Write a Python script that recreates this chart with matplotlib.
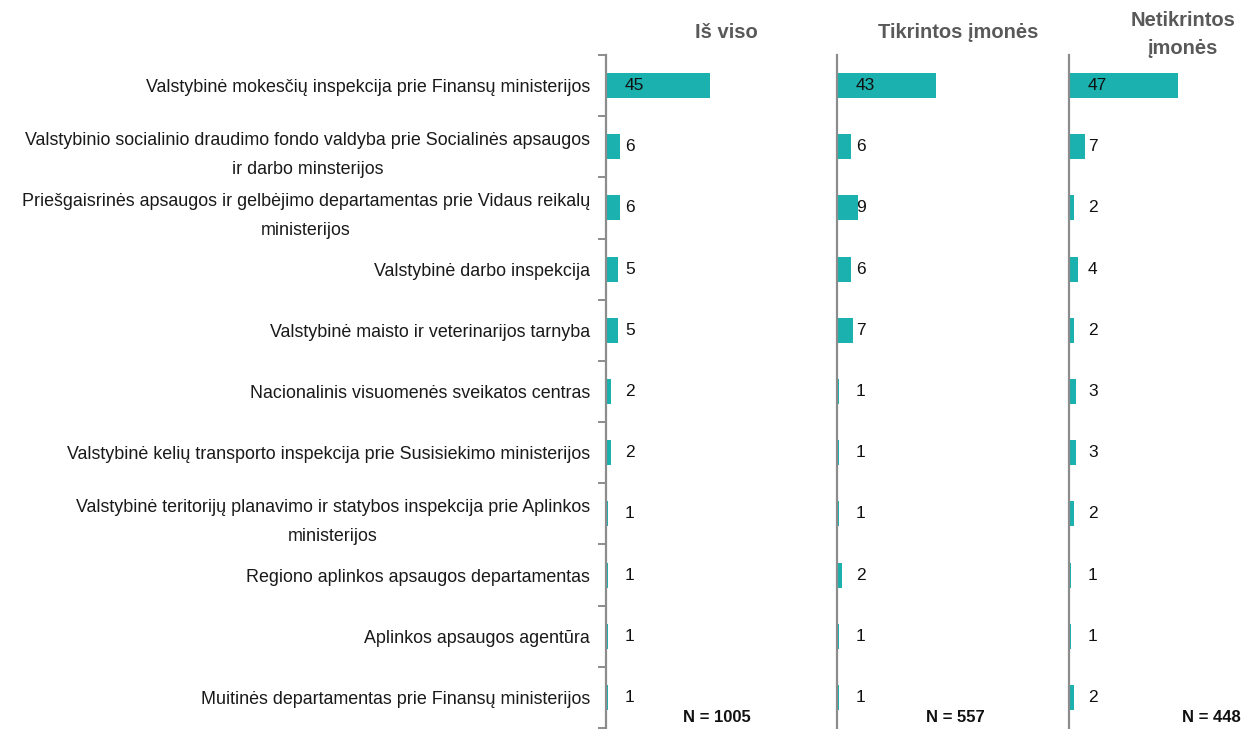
import matplotlib
matplotlib.use("Agg")
import matplotlib.pyplot as plt

plt.rcParams['font.family'] = ['Liberation Sans', 'DejaVu Sans']

categories = [
    "Valstybinė mokesčių inspekcija prie Finansų ministerijos",
    "Valstybinio socialinio draudimo fondo valdyba prie Socialinės apsaugos\nir darbo minsterijos",
    "Priešgaisrinės apsaugos ir gelbėjimo departamentas prie Vidaus reikalų\nministerijos",
    "Valstybinė darbo inspekcija",
    "Valstybinė maisto ir veterinarijos tarnyba",
    "Nacionalinis visuomenės sveikatos centras",
    "Valstybinė kelių transporto inspekcija prie Susisiekimo ministerijos",
    "Valstybinė teritorijų planavimo ir statybos inspekcija prie Aplinkos\nministerijos",
    "Regiono aplinkos apsaugos departamentas",
    "Aplinkos apsaugos agentūra",
    "Muitinės departamentas prie Finansų ministerijos",
]
is_viso = [45, 6, 6, 5, 5, 2, 2, 1, 1, 1, 1]
tikrintos = [43, 6, 9, 6, 7, 1, 1, 1, 2, 1, 1]
netikrintos = [47, 7, 2, 4, 2, 3, 3, 2, 1, 1, 2]
series = [is_viso, tikrintos, netikrintos]
headers = ["Iš viso", "Tikrintos įmonės", "Netikrintos\nįmonės"]
n_labels = ["N = 1005", "N = 557", "N = 448"]

W, H = 1246, 729
fig = plt.figure(figsize=(W / 100, H / 100), dpi=100)

bar_color = "#1BB1AE"
spine_color = "#8C8C8C"
px_per_unit = 2.31
top_px, bot_px = 55, 728
panels_px = [(606, 837), (837, 1069), (1069, 1246)]
header_pos = [(726, 32), (958, 32), (1183, 34)]
n_pos = [(717, 718), (955, 718), (1211, 718)]

n = len(categories)
ypos = list(range(n))
for i, (x0, x1) in enumerate(panels_px):
    ax = fig.add_axes([x0 / W, (H - bot_px) / H, (x1 - x0) / W, (bot_px - top_px) / H])
    ax.set_xlim(0, (x1 - x0) / px_per_unit)
    ax.set_ylim(n - 0.5, -0.5)
    vals = series[i]
    ax.barh(ypos, vals, height=0.41, color=bar_color, edgecolor='none')
    for j, v in enumerate(vals):
        ax.annotate(f"{v}", (0, j), xytext=(19, 0), textcoords='offset pixels',
                    va='center', ha='left', fontsize=12.5, color='#111111')
    for s in ['top', 'right', 'bottom']:
        ax.spines[s].set_visible(False)
    ax.spines['left'].set_color(spine_color)
    ax.spines['left'].set_linewidth(1.6)
    ax.set_xticks([])
    ax.patch.set_alpha(0)
    if i == 0:
        ax.set_yticks(ypos)
        ax.set_yticklabels(categories, fontsize=12.9, color='#1a1a1a')
        ax.tick_params(axis='y', which='major', length=0, pad=11.5)
        ax.set_yticks([k - 0.5 for k in range(n + 1)], minor=True)
        ax.tick_params(axis='y', which='minor', length=6, width=1.4, color=spine_color, direction='out')
        for lbl in ax.get_yticklabels():
            lbl.set_multialignment('center')
            lbl.set_linespacing(1.95)
    else:
        ax.set_yticks([])
    fig.text(header_pos[i][0] / W, 1 - header_pos[i][1] / H, headers[i], ha='center', va='center',
             fontsize=14.5, fontweight='bold', color='#595959', linespacing=1.6)
    fig.text(n_pos[i][0] / W, 1 - n_pos[i][1] / H, n_labels[i], ha='center', va='center',
             fontsize=12, fontweight='bold', color='#111111')

fig.savefig("out.png", dpi=100)
